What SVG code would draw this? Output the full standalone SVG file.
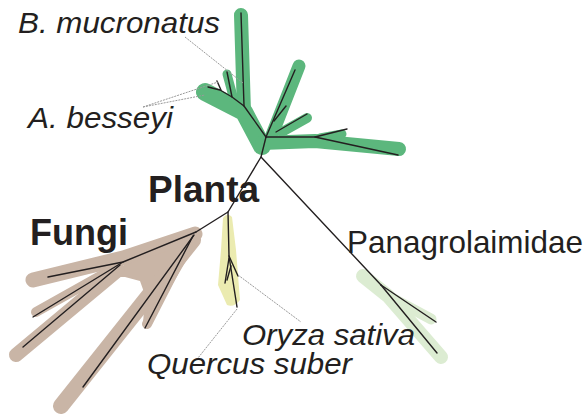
<svg xmlns="http://www.w3.org/2000/svg" width="586" height="416" viewBox="0 0 586 416">
<style>
.t{font-family:"Liberation Sans",Arial,sans-serif;fill:#231f20}
.i{font-style:italic;font-size:29px}
.b{font-weight:bold}
.br{fill:none;stroke:#231f20;stroke-width:1.4;stroke-linecap:round;stroke-linejoin:round}
.ld{fill:none;stroke:#9a9a9a;stroke-width:1;stroke-dasharray:2 1}
.hg{fill:none;stroke:#5cb77d;stroke-linecap:round;stroke-linejoin:round}
.hb{fill:none;stroke:#c9b5a6;stroke-linecap:round;stroke-linejoin:round}
.hl{fill:none;stroke:#dcecd2;stroke-linecap:round;stroke-linejoin:round}
</style>
<rect width="586" height="416" fill="#ffffff"/>
<g id="nematoda-green">
  <path class="hg" stroke-width="18" d="M262,146 L244,112 L205,92"/>
  <path class="hg" stroke-width="14" d="M244,112 L241,15"/>
  <path class="hg" stroke-width="9" d="M234,100 L227,74"/>
  <path class="hg" stroke-width="13" d="M270,140 L299,66"/>
  <path class="hg" stroke-width="10" d="M282,132 L307,118"/>
  <path class="hg" stroke-width="14" d="M262,143 L315,141 L399,149"/>
  <path class="hg" stroke-width="9" d="M320,138 L342,134"/>
  <path class="br" d="M266,137 L244,106 L241,13"/>
  <path class="br" d="M244,106 L232,97 L227,72"/>
  <path class="br" d="M232,97 L220,90 L208,87"/>
  <path class="br" d="M221,90 L217,81"/>
  <path class="br" d="M266,137 L295,70"/>
  <path class="br" d="M274,121 L286,106"/>
  <path class="br" d="M276,132 L307,114"/>
  <path class="br" d="M266,137 L315,137 L398,155"/>
  <path class="br" d="M315,137 L347,129"/>
</g>
<g id="panagrolaimidae">
  <path class="hl" stroke-width="14" d="M363,276 L388,296 L441,357"/>
  <path class="hl" stroke-width="11" d="M390,297 L431,319"/>
  <path class="br" d="M381,285 L436,322"/>
  <path class="br" d="M381,285 L437,353"/>
  <text class="t" x="347" y="253" font-size="31.5" textLength="236" lengthAdjust="spacingAndGlyphs">Panagrolaimidae</text>
</g>
<g id="plantae">
  <path fill="#ebebb0" d="M223,218 Q227,212 232,217 L236,250 L240,300 Q234,308 227,305 L218,285 L221,250 Z"/>
  <path class="br" d="M228,212 L229,256 L237,307"/>
  <path class="br" d="M229,256 L238,276"/>
  <path class="br" d="M229,258 L225,283"/>
  <path class="br" d="M231,266 L227,280"/>
</g>
<g id="fungi">
  <path fill="#c9b5a6" d="M195,229 L200,237 L172,285 L150,326 L143,324 L145,295 L140,281 L125,277 L112,277 L125,264 L160,247 Z"/>
  <path class="hb" stroke-width="15" d="M195,234 L123,258 L33,280"/>
  <path class="hb" stroke-width="10" d="M118,266 L36,312"/>
  <path class="hb" stroke-width="14" d="M118,270 L16,355"/>
  <path class="hb" stroke-width="16" d="M193,240 L61,406"/>
  <path class="hb" stroke-width="10" d="M190,240 L147,324"/>
  <path class="br" d="M196,232 L123,262 L48,277"/>
  <path class="br" d="M123,262 L33,317"/>
  <path class="br" d="M120,265 L23,347"/>
  <path class="br" d="M194,235 L83,387"/>
  <path class="br" d="M193,236 L145,328"/>
  <text class="t b" x="30" y="245" font-size="36">Fungi</text>
</g>
<g id="connectors">
  <path class="br" d="M266,137 L261,157 L228,212 L196,232"/>
  <path class="br" d="M261,157 L381,285"/>
  <path class="ld" d="M185,37 L243,83"/>
  <path class="ld" d="M143,107 L218,82"/>
  <path class="ld" d="M143,107 L205,95"/>
  <path class="ld" d="M238,275 L301,322"/>
  <path class="ld" d="M237,309 L198,358"/>
</g>
<g id="labels">
  <text class="t i" x="18" y="33" textLength="202" lengthAdjust="spacingAndGlyphs">B. mucronatus</text>
  <text class="t i" x="28" y="128" textLength="145" lengthAdjust="spacingAndGlyphs">A. besseyi</text>
  <text class="t b" x="148" y="202" font-size="37">Planta</text>
  <text class="t i" x="242" y="345" textLength="173" lengthAdjust="spacingAndGlyphs">Oryza sativa</text>
  <text class="t i" x="147" y="374" textLength="205" lengthAdjust="spacingAndGlyphs">Quercus suber</text>
</g>
</svg>
